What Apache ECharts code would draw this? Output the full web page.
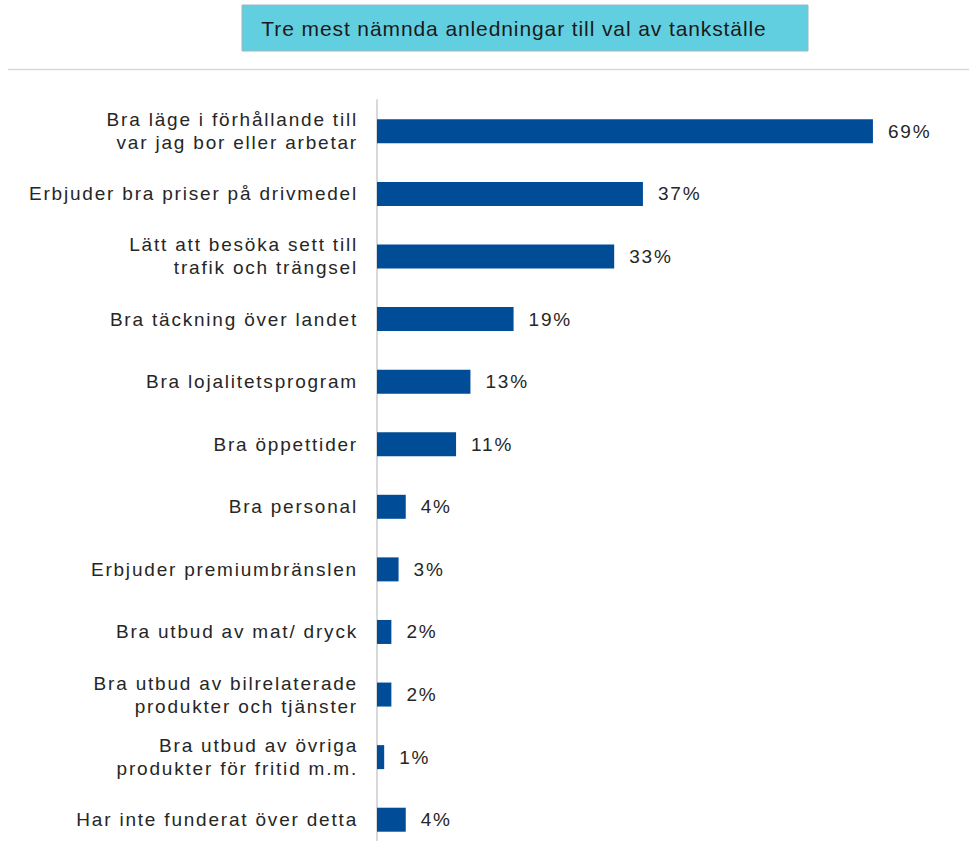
<!DOCTYPE html>
<html>
<head>
<meta charset="utf-8">
<script src="https://cdn.jsdelivr.net/npm/echarts@6/dist/echarts.min.js"></script>
<style>
  html, body { margin: 0; padding: 0; background: #ffffff; overflow: hidden; }
  #chart { width: 969px; height: 860px; }
  /* slightly airy tracking for all chart text */
  #chart svg text { letter-spacing: 1.8px; }
</style>
</head>
<body>
<div id="chart"></div>
<script>
// Reasons, top to bottom
const categories = [
  'Bra läge i förhållande till\nvar jag bor eller arbetar',
  'Erbjuder bra priser på drivmedel',
  'Lätt att besöka sett till\ntrafik och trängsel',
  'Bra täckning över landet',
  'Bra lojalitetsprogram',
  'Bra öppettider',
  'Bra personal',
  'Erbjuder premiumbränslen',
  'Bra utbud av mat/ dryck',
  'Bra utbud av bilrelaterade\nprodukter och tjänster',
  'Bra utbud av övriga\nprodukter för fritid m.m.',
  'Har inte funderat över detta'
];
// Share of respondents (%)
const shares = [69, 37, 33, 19, 13, 11, 4, 3, 2, 2, 1, 4];
const titleText = 'Tre mest nämnda anledningar till val av tankställe';

const chart = echarts.init(document.getElementById('chart'), null, { renderer: 'svg' });
const FONT = '"Liberation Sans", Arial, sans-serif';

chart.setOption({
  animation: false,
  backgroundColor: '#ffffff',
  graphic: [
    {
      type: 'rect',
      shape: { x: 242, y: 5, width: 566, height: 46 },
      style: { fill: '#62CFE1', stroke: '#9DB7BE', lineWidth: 1 }
    },
    {
      type: 'text',
      x: 514, y: 28,
      style: {
        text: titleText,
        font: '21px ' + FONT,
        fill: '#1a1a1a',
        align: 'center',
        verticalAlign: 'middle'
      }
    },
    {
      type: 'line',
      shape: { x1: 8, y1: 69.5, x2: 969, y2: 69.5 },
      style: { stroke: '#D9D9D9', lineWidth: 1.5 }
    }
  ],
  grid: { left: 377, top: 100, width: 575, height: 751, containLabel: false },
  xAxis: {
    type: 'value', min: 0, max: 80,
    show: false
  },
  yAxis: {
    type: 'category',
    inverse: true,
    data: categories,
    axisLine: { show: true, lineStyle: { color: '#D9D9D9', width: 2 } },
    axisTick: { show: false },
    axisLabel: {
      margin: 19,
      fontFamily: FONT,
      fontSize: 19,
      lineHeight: 23,
      color: '#262626',
      align: 'right'
    }
  },
  series: [{
    type: 'bar',
    data: shares,
    barWidth: 24,
    itemStyle: { color: '#004C97' },
    label: {
      show: true,
      position: 'right',
      distance: 15,
      formatter: '{c}%',
      fontFamily: FONT,
      fontSize: 19,
      color: '#262626'
    }
  }]
});

// the heading uses a tighter tracking than the axis text
document.querySelectorAll('#chart svg text').forEach(function (t) {
  if (t.textContent === titleText) t.style.letterSpacing = '0.9px';
});
</script>
</body>
</html>
